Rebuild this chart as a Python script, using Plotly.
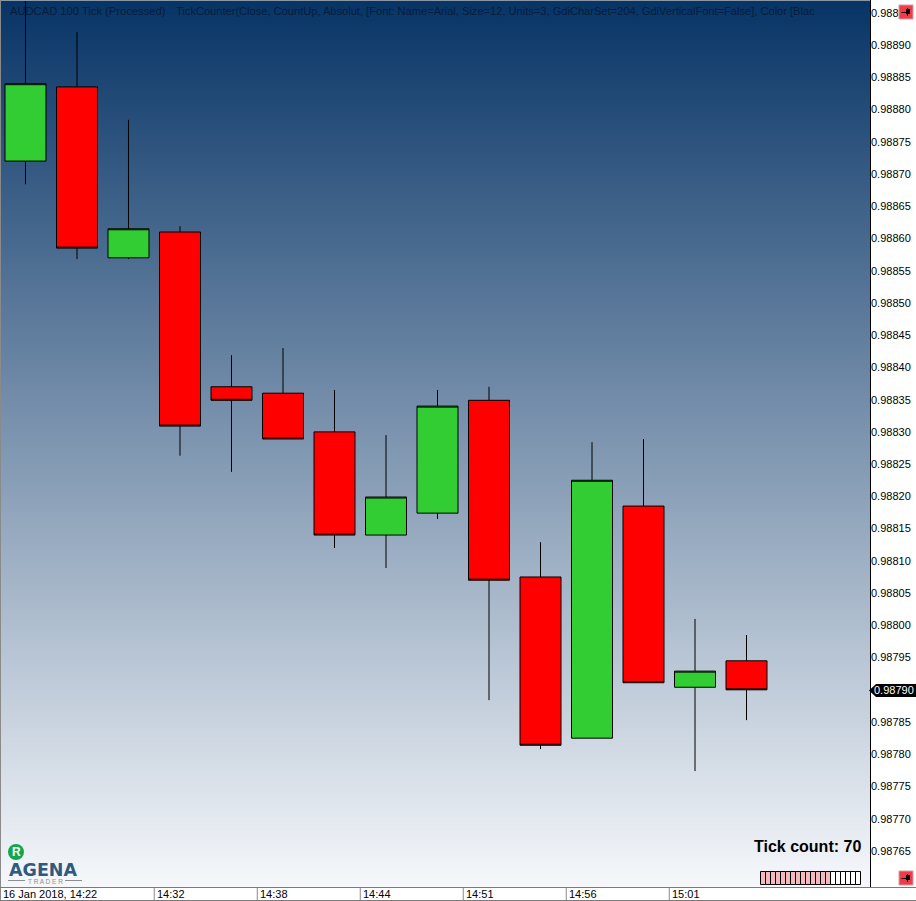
import plotly.graph_objects as go

W, H = 916, 901
FONT = "Liberation Sans, Arial, sans-serif"

bar_index = list(range(15))
open_ = [0.988720, 0.988835, 0.988570, 0.988610, 0.988370, 0.988360, 0.988300, 0.988140, 0.988174, 0.988349, 0.988075, 0.987825, 0.988185, 0.987904, 0.987945]
high = [0.988985, 0.988920, 0.988784, 0.988619, 0.988419, 0.988430, 0.988365, 0.988295, 0.988365, 0.988370, 0.988129, 0.988284, 0.988289, 0.988010, 0.987985]
low = [0.988684, 0.988568, 0.988568, 0.988263, 0.988238, 0.988289, 0.988120, 0.988089, 0.988165, 0.987884, 0.987808, 0.987825, 0.987911, 0.987774, 0.987853]
close = [0.988840, 0.988585, 0.988615, 0.988309, 0.988349, 0.988289, 0.988140, 0.988199, 0.988340, 0.988070, 0.987814, 0.988225, 0.987911, 0.987929, 0.987900]

price_ticks = [0.98765, 0.98770, 0.98775, 0.98780, 0.98785, 0.98795, 0.98800, 0.98805, 0.98810,
               0.98815, 0.98820, 0.98825, 0.98830, 0.98835, 0.98840, 0.98845, 0.98850, 0.98855,
               0.98860, 0.98865, 0.98870, 0.98875, 0.98880, 0.98885, 0.98890, 0.98895]
time_tick_pos = [-0.49, 2.5, 4.5, 6.5, 8.5, 10.5, 12.5]
time_tick_labels = ["16 Jan 2018, 14:22", "14:32", "14:38", "14:44", "14:51", "14:56", "15:01"]
tick_count = 70
progress_cells = 20
progress_filled = 14
chart_title = "AUDCAD 100 Tick (Processed)"
indicator_title = "TickCounter(Close, CountUp, Absolut, [Font: Name=Arial, Size=12, Units=3, GdiCharSet=204, GdiVerticalFont=False], Color [Blac"

x_range = [-0.495, 16.398]
y_range = [0.9875942, 0.9889698]


def px(x):
    return x / W


def py(y):
    return 1 - y / H


shapes = []
annotations = []


def rect(x0, y0, x1, y1, fill, line=None, width=1):
    shapes.append(dict(type="rect", xref="paper", yref="paper", x0=px(x0), x1=px(x1), y0=py(y0), y1=py(y1),
                       fillcolor=fill, line=dict(color=line or fill, width=width if line else 0)))


def hline(x0, y0, x1, y1, color, width=1):
    shapes.append(dict(type="line", xref="paper", yref="paper", x0=px(x0), x1=px(x1), y0=py(y0), y1=py(y1),
                       line=dict(color=color, width=width)))


def text(x, y, s, size=12, color="black", anchor="left", family=FONT, **kw):
    annotations.append(dict(xref="paper", yref="paper", x=px(x), y=py(y), text=s, showarrow=False,
                            xanchor=anchor, yanchor="middle", font=dict(family=family, size=size, color=color),
                            borderpad=0, **kw))


fig = go.Figure()

fig.add_trace(go.Heatmap(x=x_range, y=y_range, z=[[0, 0], [1, 1]], zmin=0, zmax=1, zsmooth="best",
                         colorscale=[[0, "#f6f8fb"], [1, "#073466"]], showscale=False, hoverinfo="skip"))

fig.add_trace(go.Candlestick(x=bar_index, open=open_, high=high, low=low, close=close, whiskerwidth=0,
                             increasing=dict(fillcolor="#32cd32", line=dict(color="black", width=1)),
                             decreasing=dict(fillcolor="#ff0000", line=dict(color="black", width=1)),
                             showlegend=False))

# frame
hline(0, 0.5, 870, 0.5, "#8a97a5")
hline(0.5, 0, 0.5, 900, "#8a8a8a")
hline(0, 887.5, 916, 887.5, "#7a7a7a")
hline(0, 900.5, 916, 900.5, "#7a7a7a")
hline(870.5, 0, 870.5, 887, "black")

# time axis cells
for pos, lab in zip(time_tick_pos, time_tick_labels):
    shapes.append(dict(type="line", xref="x", yref="paper", x0=pos, x1=pos, y0=py(888), y1=py(900),
                       line=dict(color="#8a8a8a", width=1)))
    annotations.append(dict(xref="x", yref="paper", x=pos, y=py(894), text=lab, showarrow=False, xanchor="left",
                            yanchor="middle", xshift=2, borderpad=0, font=dict(family=FONT, size=11, color="black")))

# chart titles
text(9, 11, chart_title, 11.2, "#071c3a")
text(175, 11, indicator_title, 11.1, "#071c3a")

# last-price tag, tied to the last close
rect(876, 684, 916, 697, "black")
shapes.append(dict(type="path", xref="paper", yref="paper",
                   path=f"M {px(869)} {py(690.5)} L {px(876)} {py(684)} L {px(876)} {py(697)} Z",
                   fillcolor="black", line=dict(width=0)))
annotations.append(dict(xref="paper", yref="y", x=px(915), y=close[-1], text=f"{close[-1]:.5f}", showarrow=False,
                        xanchor="right", yanchor="middle", borderpad=0,
                        font=dict(family=FONT, size=11, color="white")))

# tick counter
text(862, 846, f"<b>Tick count: {tick_count}</b>", 16, "black", "right")
cell_w = 5.0
for i in range(progress_cells):
    x0 = 760.5 + i * cell_w
    rect(x0, 871.5, x0 + cell_w, 884.5, "#f5b8bc" if i < progress_filled else "white", "black", 1)


# window icons
def icon(x0, y0):
    rect(x0, y0, x0 + 14, y0 + 14, "#f23a4a", "#c9a0a4", 1)
    hline(x0 + 2.5, y0 + 7.5, x0 + 8, y0 + 7.5, "black", 1)
    rect(x0 + 7, y0 + 4, x0 + 11, y0 + 9, "black")
    hline(x0 + 8.5, y0 + 3, x0 + 8.5, y0 + 11, "black", 1)


icon(899, 5)
icon(899, 871)

# logo
shapes.append(dict(type="circle", xref="paper", yref="paper", x0=px(8), x1=px(24), y0=py(860), y1=py(844),
                   fillcolor="#12a84a", line=dict(width=0)))
text(16, 851.5, "<b>R</b>", 12, "white", "center")
text(8, 870, "<b>AGENA</b>", 17.5, "#2f5a7e", family="DejaVu Sans")
text(45, 881, "T R A D E R", 6.5, "#8a8f94", "center")
hline(8, 880.5, 25, 880.5, "#8a8f94")
hline(65, 880.5, 82, 880.5, "#8a8f94")

fig.update_layout(
    width=W, height=H, margin=dict(l=0, r=0, t=0, b=0, autoexpand=False),
    paper_bgcolor="white", plot_bgcolor="white", showlegend=False, boxgap=0.005, boxgroupgap=0.2,
    font=dict(family=FONT, size=12, color="black"),
    shapes=shapes, annotations=annotations,
    xaxis=dict(domain=[0, 870 / W], range=x_range, showticklabels=False, ticks="", showgrid=False, zeroline=False,
               showline=False, rangeslider=dict(visible=False)),
    yaxis=dict(domain=[1 - 887 / H, 1], range=y_range, side="right", tickmode="array", tickvals=price_ticks,
               tickformat=".5f", ticks="", showgrid=False, zeroline=False, showline=False,
               tickfont=dict(family=FONT, size=11)),
)

fig.write_html("out.html", config=dict(displayModeBar=False),
               post_script="document.body.style.margin='0';document.body.style.overflow='hidden';")
